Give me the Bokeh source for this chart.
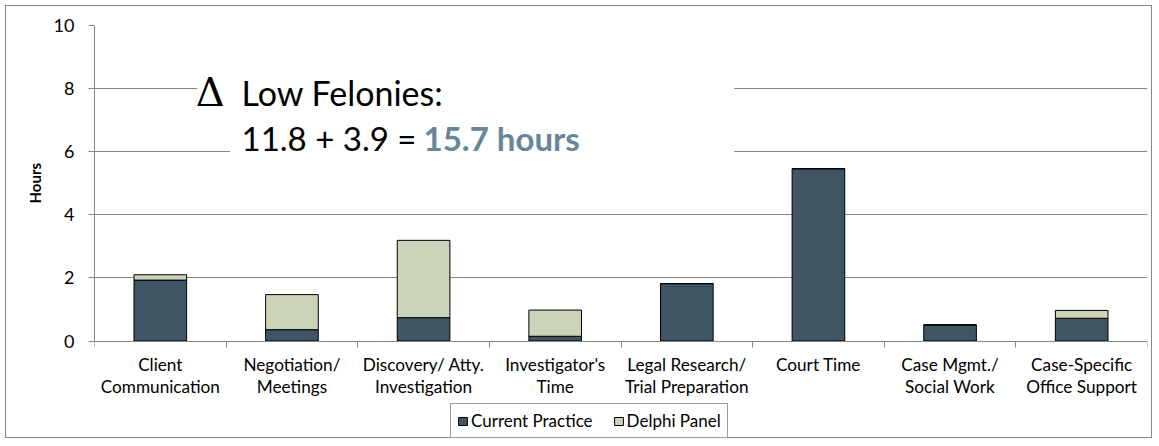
from bokeh.plotting import figure
from bokeh.models import (Range1d, FixedTicker, Legend, LegendItem, Label,
                          BoxAnnotation, ColumnDataSource, Title)
from bokeh.embed import file_html
from bokeh.resources import INLINE

# ---- data ----
categories = ["Client\nCommunication", "Negotiation/\nMeetings",
              "Discovery/ Atty.\nInvestigation", "Investigator's\nTime",
              "Legal Research/\nTrial Preparation", "Court Time",
              "Case Mgmt./\nSocial Work", "Case-Specific\nOffice Support"]
current_practice = [1.93, 0.36, 0.74, 0.15, 1.82, 5.46, 0.51, 0.72]
delphi_panel = [0.17, 1.11, 2.45, 0.83, 0.0, 0.0, 0.0, 0.25]
series_names = ["Current Practice", "Delphi Panel"]
y_ticks = [0, 2, 4, 6, 8, 10]
y_max = 10
y_title = "Hours"

FONT = "Lato"
GRID = "#868686"
C_CUR = "#405564"
C_DEL = "#CAD4B9"

# layout (px)
W, H = 1147, 433
BL, BR, BT, BB = 88, 6, 19, 0
PX_PER_UNIT = 31.55
frame_h = H - BT - BB
y_start = y_max - frame_h / PX_PER_UNIT   # room below 0 for labels + legend

xpos = [i + 0.5 for i in range(len(categories))]
src = ColumnDataSource(dict(x=xpos, cur=current_practice, dp=delphi_panel))

p = figure(width=W, height=H, x_range=Range1d(0, len(categories)),
           y_range=Range1d(y_start, y_max), output_backend="svg",
           toolbar_location=None,
           min_border_left=BL, min_border_right=BR, min_border_top=BT,
           min_border_bottom=BB)
p.styles = {"border": "1px solid #8a8a8a", "margin": "5px 0 0 5px"}
p.outline_line_color = None
p.background_fill_color = "white"
p.border_fill_color = "white"

rs = p.vbar_stack(["cur", "dp"], x="x", width=0.40, source=src,
                  color=[C_CUR, C_DEL], line_color="black", line_width=1)
for r in rs:
    r.glyph.line_color = "black"

# x axis drawn at y = 0
xa = p.xaxis[0]
xa.fixed_location = 0
xa.ticker = FixedTicker(ticks=xpos, minor_ticks=list(range(len(categories) + 1)))
xa.major_label_overrides = {x: c for x, c in zip(xpos, categories)}
xa.major_tick_line_color = None
xa.major_tick_out = 0
xa.major_tick_in = 0
xa.minor_tick_line_color = GRID
xa.minor_tick_out = 6
xa.minor_tick_in = 0
xa.axis_line_color = GRID
xa.major_label_text_font = FONT
xa.major_label_text_font_size = "17.2px"
xa.major_label_text_line_height = 1.05
xa.major_label_text_color = "black"
xa.major_label_standoff = 7
p.xgrid.grid_line_color = None

# y axis
ya = p.yaxis[0]
ya.bounds = (0, y_max)
ya.ticker = FixedTicker(ticks=y_ticks)
ya.minor_tick_line_color = None
ya.major_tick_line_color = GRID
ya.major_tick_out = 6
ya.major_tick_in = 0
ya.axis_line_color = GRID
ya.major_label_text_font = FONT
ya.major_label_text_font_size = "18px"
ya.major_label_text_color = "black"
ya.major_label_standoff = 14
p.ygrid.grid_line_color = GRID
p.ygrid.ticker = FixedTicker(ticks=y_ticks[1:])

# y-axis title, centred on the 0..10 part of the axis
p.add_layout(Title(text=y_title, align="left", offset=236, standoff=12,
                   vertical_align="middle", text_font=FONT,
                   text_font_style="bold", text_font_size="15px",
                   text_color="black"), "left")

# annotation text box (white background hides gridlines)
p.add_layout(BoxAnnotation(left=0.78, right=4.86, bottom=7.0, top=9.0,
                           fill_color="white", fill_alpha=1, line_color=None))
p.add_layout(BoxAnnotation(left=1.03, right=4.86, bottom=5.2, top=7.0,
                           fill_color="white", fill_alpha=1, line_color=None))
p.add_layout(Label(x=0.77, y=7.89, text="\u0394", text_font="DejaVu Serif",
                   text_font_size="40px", text_color="black",
                   text_baseline="alphabetic"))
p.add_layout(Label(x=1.117, y=7.89, text="Low Felonies:", text_font=FONT,
                   text_font_size="34px", text_color="black",
                   text_baseline="alphabetic"))
p.add_layout(Label(x=1.117, y=6.43, text="11.8 + 3.9 =", text_font=FONT,
                   text_font_size="33px", text_color="black",
                   text_baseline="alphabetic"))
p.add_layout(Label(x=2.50, y=6.43, text="15.7 hours", text_font=FONT,
                   text_font_size="33px", text_font_style="bold",
                   text_color="#688699", text_baseline="alphabetic"))

legend = Legend(items=[LegendItem(label=series_names[0], renderers=[rs[0]]),
                       LegendItem(label=series_names[1], renderers=[rs[1]])],
                location=(356, 1), orientation="horizontal",
                glyph_width=11, glyph_height=10, label_standoff=3, spacing=20,
                padding=6, margin=0, label_text_font=FONT,
                label_text_font_size="17px", label_text_color="black",
                border_line_color="#3a3a3a", border_line_width=1,
                background_fill_color="white", background_fill_alpha=1)
p.add_layout(legend)

open("out.html", "w").write(file_html(p, INLINE))
